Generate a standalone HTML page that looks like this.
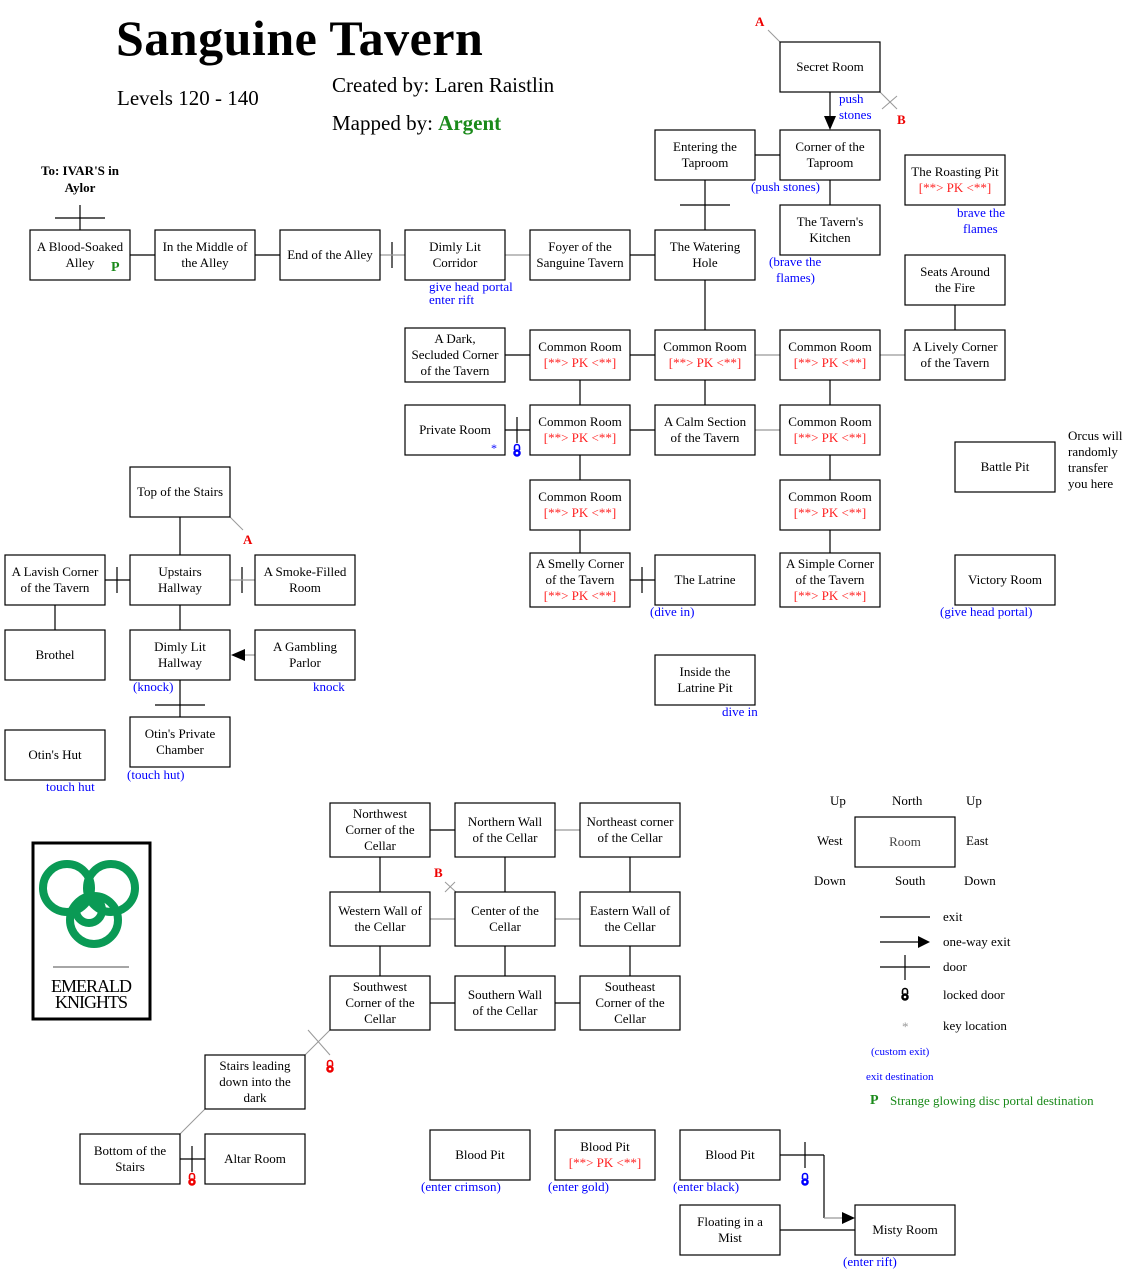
<!DOCTYPE html>
<html><head><meta charset="utf-8"><style>
html,body{margin:0;padding:0;background:#fff}
svg{display:block}
text{font-family:"Liberation Serif",serif;font-size:13px}
.c{text-anchor:middle}
.r{fill:#fff;stroke:#000;stroke-width:1.2}
.l{stroke:#000;stroke-width:1.2}
.g{stroke:#999;stroke-width:1.2}
.pk{fill:#f22}
.bl{fill:#00f}
</style></head><body>
<svg width="1132" height="1275" viewBox="0 0 1132 1275" xmlns="http://www.w3.org/2000/svg">
<defs>
<g id="lk"><path d="M-2.5,-1 V-4 A2.5,2.5 0 0 1 2.5,-4 V-1" fill="none" stroke-width="1.6"/><circle cx="0" cy="2" r="3.8" stroke="none"/><circle cx="0" cy="2" r="1.3" fill="#fff" stroke="none"/></g>
</defs>

<!-- titles -->
<text x="116" y="55" style="font-size:50px;font-weight:bold;letter-spacing:0.5px">Sanguine Tavern</text>
<text x="117" y="105" style="font-size:21px">Levels 120 - 140</text>
<text x="332" y="92" style="font-size:21px">Created by: Laren Raistlin</text>
<text x="332" y="130" style="font-size:21px">Mapped by: <tspan fill="#1a8a1a" font-weight="bold">Argent</tspan></text>
<text x="80" y="175" class="c" style="font-weight:bold">To: IVAR'S in</text>
<text x="80" y="192" class="c" style="font-weight:bold">Aylor</text>

<!-- connectors -->
<g class="l">
<line x1="80" y1="205" x2="80" y2="230"/><line x1="55" y1="218" x2="105" y2="218"/>
<line x1="130" y1="255" x2="155" y2="255"/>
<line x1="255" y1="255" x2="280" y2="255"/>
<line x1="392" y1="242" x2="392" y2="268"/>
<line x1="630" y1="255" x2="655" y2="255"/>
<line x1="705" y1="180" x2="705" y2="230"/><line x1="680" y1="205" x2="730" y2="205"/>
<line x1="755" y1="155" x2="780" y2="155"/>
<line x1="830" y1="180" x2="830" y2="205"/>
<line x1="830" y1="92" x2="830" y2="116"/>
<line x1="705" y1="280" x2="705" y2="330"/>
<line x1="505" y1="355" x2="530" y2="355"/>
<line x1="630" y1="355" x2="655" y2="355"/>
<line x1="955" y1="305" x2="955" y2="330"/>
<line x1="580" y1="380" x2="580" y2="405"/>
<line x1="705" y1="380" x2="705" y2="405"/>
<line x1="830" y1="380" x2="830" y2="405"/>
<line x1="505" y1="430" x2="530" y2="430"/><line x1="517" y1="417" x2="517" y2="443"/>
<line x1="630" y1="430" x2="655" y2="430"/>
<line x1="580" y1="455" x2="580" y2="480"/>
<line x1="830" y1="455" x2="830" y2="480"/>
<line x1="580" y1="530" x2="580" y2="553"/>
<line x1="830" y1="530" x2="830" y2="553"/>
<line x1="630" y1="580" x2="655" y2="580"/><line x1="642" y1="567" x2="642" y2="593"/>
<line x1="180" y1="517" x2="180" y2="555"/>
<line x1="105" y1="580" x2="130" y2="580"/><line x1="117" y1="567" x2="117" y2="593"/>
<line x1="242" y1="567" x2="242" y2="593"/>
<line x1="55" y1="605" x2="55" y2="630"/>
<line x1="180" y1="605" x2="180" y2="630"/>
<line x1="180" y1="680" x2="180" y2="717"/><line x1="155" y1="705" x2="205" y2="705"/>
<line x1="430" y1="830" x2="455" y2="830"/>
<line x1="380" y1="857" x2="380" y2="892"/>
<line x1="505" y1="857" x2="505" y2="892"/>
<line x1="630" y1="857" x2="630" y2="892"/>
<line x1="380" y1="946" x2="380" y2="976"/>
<line x1="505" y1="946" x2="505" y2="976"/>
<line x1="630" y1="946" x2="630" y2="976"/>
<line x1="430" y1="1003" x2="455" y2="1003"/>
<line x1="555" y1="1003" x2="580" y2="1003"/>
<line x1="180" y1="1159" x2="205" y2="1159"/><line x1="192" y1="1146" x2="192" y2="1172"/>
<line x1="780" y1="1155" x2="824" y2="1155"/><line x1="824" y1="1155" x2="824" y2="1218"/><line x1="805" y1="1142" x2="805" y2="1168"/>
<line x1="780" y1="1230" x2="855" y2="1230"/>
<line x1="880" y1="917" x2="930" y2="917"/>
<line x1="880" y1="942" x2="918" y2="942"/>
<line x1="880" y1="967" x2="930" y2="967"/><line x1="905" y1="955" x2="905" y2="980"/>
</g>
<g class="g">
<line x1="380" y1="255" x2="405" y2="255"/>
<line x1="505" y1="255" x2="530" y2="255"/>
<line x1="755" y1="355" x2="780" y2="355"/>
<line x1="880" y1="355" x2="905" y2="355"/>
<line x1="755" y1="430" x2="780" y2="430"/>
<line x1="230" y1="580" x2="255" y2="580"/>
<line x1="245" y1="655" x2="255" y2="655"/>
<line x1="555" y1="830" x2="580" y2="830"/>
<line x1="430" y1="919" x2="455" y2="919"/>
<line x1="555" y1="919" x2="580" y2="919"/>
<line x1="824" y1="1218" x2="842" y2="1218"/>
<line x1="768" y1="30" x2="780" y2="42" stroke-width="1"/>
<line x1="880" y1="92" x2="897" y2="109" stroke-width="1"/><line x1="882" y1="109" x2="897" y2="96" stroke-width="1"/>
<line x1="230" y1="517" x2="243" y2="530" stroke-width="1"/>
<line x1="445" y1="892" x2="455" y2="882" stroke-width="1"/><line x1="445" y1="882" x2="456" y2="892" stroke-width="1"/>
<line x1="330" y1="1030" x2="305" y2="1055" stroke-width="1"/><line x1="308" y1="1030" x2="330" y2="1055" stroke-width="1"/>
<line x1="205" y1="1109" x2="180" y2="1134" stroke-width="1"/>
</g>
<!-- arrows -->
<polygon points="824,116 836,116 830,130" fill="#000"/>
<polygon points="231,655 245,649 245,661" fill="#000"/>
<polygon points="842,1212 855,1218 842,1224" fill="#000"/>
<polygon points="918,936 930,942 918,948" fill="#000"/>

<!-- boxes -->
<g class="r">
<rect x="780" y="42" width="100" height="50"/>
<rect x="655" y="130" width="100" height="50"/>
<rect x="780" y="130" width="100" height="50"/>
<rect x="780" y="205" width="100" height="50"/>
<rect x="905" y="155" width="100" height="50"/>
<rect x="905" y="255" width="100" height="50"/>
<rect x="30" y="230" width="100" height="50"/>
<rect x="155" y="230" width="100" height="50"/>
<rect x="280" y="230" width="100" height="50"/>
<rect x="405" y="230" width="100" height="50"/>
<rect x="530" y="230" width="100" height="50"/>
<rect x="655" y="230" width="100" height="50"/>
<rect x="405" y="328" width="100" height="54"/>
<rect x="530" y="330" width="100" height="50"/>
<rect x="655" y="330" width="100" height="50"/>
<rect x="780" y="330" width="100" height="50"/>
<rect x="905" y="330" width="100" height="50"/>
<rect x="405" y="405" width="100" height="50"/>
<rect x="530" y="405" width="100" height="50"/>
<rect x="655" y="405" width="100" height="50"/>
<rect x="780" y="405" width="100" height="50"/>
<rect x="955" y="442" width="100" height="50"/>
<rect x="530" y="480" width="100" height="50"/>
<rect x="780" y="480" width="100" height="50"/>
<rect x="530" y="553" width="100" height="54"/>
<rect x="655" y="555" width="100" height="50"/>
<rect x="780" y="553" width="100" height="54"/>
<rect x="955" y="555" width="100" height="50"/>
<rect x="655" y="655" width="100" height="50"/>
<rect x="130" y="467" width="100" height="50"/>
<rect x="5" y="555" width="100" height="50"/>
<rect x="130" y="555" width="100" height="50"/>
<rect x="255" y="555" width="100" height="50"/>
<rect x="5" y="630" width="100" height="50"/>
<rect x="130" y="630" width="100" height="50"/>
<rect x="255" y="630" width="100" height="50"/>
<rect x="5" y="730" width="100" height="50"/>
<rect x="130" y="717" width="100" height="50"/>
<rect x="330" y="803" width="100" height="54"/>
<rect x="455" y="803" width="100" height="54"/>
<rect x="580" y="803" width="100" height="54"/>
<rect x="330" y="892" width="100" height="54"/>
<rect x="455" y="892" width="100" height="54"/>
<rect x="580" y="892" width="100" height="54"/>
<rect x="330" y="976" width="100" height="54"/>
<rect x="455" y="976" width="100" height="54"/>
<rect x="580" y="976" width="100" height="54"/>
<rect x="205" y="1055" width="100" height="54"/>
<rect x="80" y="1134" width="100" height="50"/>
<rect x="205" y="1134" width="100" height="50"/>
<rect x="430" y="1130" width="100" height="50"/>
<rect x="555" y="1130" width="100" height="50"/>
<rect x="680" y="1130" width="100" height="50"/>
<rect x="680" y="1205" width="100" height="50"/>
<rect x="855" y="1205" width="100" height="50"/>
<rect x="855" y="817" width="100" height="50"/>
</g>

<!-- box labels -->
<g class="c">
<text x="830" y="71">Secret Room</text>
<text x="705" y="151">Entering the</text><text x="705" y="167">Taproom</text>
<text x="830" y="151">Corner of the</text><text x="830" y="167">Taproom</text>
<text x="830" y="226">The Tavern's</text><text x="830" y="242">Kitchen</text>
<text x="955" y="176">The Roasting Pit</text><text x="955" y="192" class="pk">[**&gt; PK &lt;**]</text>
<text x="955" y="276">Seats Around</text><text x="955" y="292">the Fire</text>
<text x="80" y="251">A Blood-Soaked</text><text x="80" y="267">Alley</text>
<text x="205" y="251">In the Middle of</text><text x="205" y="267">the Alley</text>
<text x="330" y="259">End of the Alley</text>
<text x="455" y="251">Dimly Lit</text><text x="455" y="267">Corridor</text>
<text x="580" y="251">Foyer of the</text><text x="580" y="267">Sanguine Tavern</text>
<text x="705" y="251">The Watering</text><text x="705" y="267">Hole</text>
<text x="455" y="343">A Dark,</text><text x="455" y="359">Secluded Corner</text><text x="455" y="375">of the Tavern</text>
<text x="580" y="351">Common Room</text><text x="580" y="367" class="pk">[**&gt; PK &lt;**]</text>
<text x="705" y="351">Common Room</text><text x="705" y="367" class="pk">[**&gt; PK &lt;**]</text>
<text x="830" y="351">Common Room</text><text x="830" y="367" class="pk">[**&gt; PK &lt;**]</text>
<text x="955" y="351">A Lively Corner</text><text x="955" y="367">of the Tavern</text>
<text x="455" y="434">Private Room</text>
<text x="580" y="426">Common Room</text><text x="580" y="442" class="pk">[**&gt; PK &lt;**]</text>
<text x="705" y="426">A Calm Section</text><text x="705" y="442">of the Tavern</text>
<text x="830" y="426">Common Room</text><text x="830" y="442" class="pk">[**&gt; PK &lt;**]</text>
<text x="1005" y="471">Battle Pit</text>
<text x="580" y="501">Common Room</text><text x="580" y="517" class="pk">[**&gt; PK &lt;**]</text>
<text x="830" y="501">Common Room</text><text x="830" y="517" class="pk">[**&gt; PK &lt;**]</text>
<text x="580" y="568">A Smelly Corner</text><text x="580" y="584">of the Tavern</text><text x="580" y="600" class="pk">[**&gt; PK &lt;**]</text>
<text x="705" y="584">The Latrine</text>
<text x="830" y="568">A Simple Corner</text><text x="830" y="584">of the Tavern</text><text x="830" y="600" class="pk">[**&gt; PK &lt;**]</text>
<text x="1005" y="584">Victory Room</text>
<text x="705" y="676">Inside the</text><text x="705" y="692">Latrine Pit</text>
<text x="180" y="496">Top of the Stairs</text>
<text x="55" y="576">A Lavish Corner</text><text x="55" y="592">of the Tavern</text>
<text x="180" y="576">Upstairs</text><text x="180" y="592">Hallway</text>
<text x="305" y="576">A Smoke-Filled</text><text x="305" y="592">Room</text>
<text x="55" y="659">Brothel</text>
<text x="180" y="651">Dimly Lit</text><text x="180" y="667">Hallway</text>
<text x="305" y="651">A Gambling</text><text x="305" y="667">Parlor</text>
<text x="55" y="759">Otin's Hut</text>
<text x="180" y="738">Otin's Private</text><text x="180" y="754">Chamber</text>
<text x="380" y="818">Northwest</text><text x="380" y="834">Corner of the</text><text x="380" y="850">Cellar</text>
<text x="505" y="826">Northern Wall</text><text x="505" y="842">of the Cellar</text>
<text x="630" y="826">Northeast corner</text><text x="630" y="842">of the Cellar</text>
<text x="380" y="915">Western Wall of</text><text x="380" y="931">the Cellar</text>
<text x="505" y="915">Center of the</text><text x="505" y="931">Cellar</text>
<text x="630" y="915">Eastern Wall of</text><text x="630" y="931">the Cellar</text>
<text x="380" y="991">Southwest</text><text x="380" y="1007">Corner of the</text><text x="380" y="1023">Cellar</text>
<text x="505" y="999">Southern Wall</text><text x="505" y="1015">of the Cellar</text>
<text x="630" y="991">Southeast</text><text x="630" y="1007">Corner of the</text><text x="630" y="1023">Cellar</text>
<text x="255" y="1070">Stairs leading</text><text x="255" y="1086">down into the</text><text x="255" y="1102">dark</text>
<text x="130" y="1155">Bottom of the</text><text x="130" y="1171">Stairs</text>
<text x="255" y="1163">Altar Room</text>
<text x="480" y="1159">Blood Pit</text>
<text x="605" y="1151">Blood Pit</text><text x="605" y="1167" class="pk">[**&gt; PK &lt;**]</text>
<text x="730" y="1159">Blood Pit</text>
<text x="730" y="1226">Floating in a</text><text x="730" y="1242">Mist</text>
<text x="905" y="1234">Misty Room</text>
<text x="905" y="846" fill="#444">Room</text>
</g>

<!-- blue labels -->
<g class="bl">
<text x="839" y="103">push</text><text x="839" y="119">stones</text>
<text x="751" y="191">(push stones)</text>
<text x="769" y="266">(brave the</text><text x="776" y="282">flames)</text>
<text x="957" y="217">brave the</text><text x="963" y="233">flames</text>
<text x="429" y="291">give head portal</text><text x="429" y="304">enter rift</text>
<text x="491" y="452" style="font-size:12px">*</text>
<text x="650" y="616">(dive in)</text>
<text x="722" y="716">dive in</text>
<text x="940" y="616">(give head portal)</text>
<text x="133" y="691">(knock)</text>
<text x="313" y="691">knock</text>
<text x="127" y="779">(touch hut)</text>
<text x="46" y="791">touch hut</text>
<text x="421" y="1191">(enter crimson)</text>
<text x="548" y="1191">(enter gold)</text>
<text x="673" y="1191">(enter black)</text>
<text x="843" y="1266">(enter rift)</text>
<text x="871" y="1055" style="font-size:11px">(custom exit)</text>
<text x="866" y="1080" style="font-size:11px">exit destination</text>
</g>
<text x="111" y="271" fill="#1a8a1a" style="font-weight:bold;font-size:14px">P</text>
<text x="1068" y="440">Orcus will</text><text x="1068" y="456">randomly</text><text x="1068" y="472">transfer</text><text x="1068" y="488">you here</text>

<!-- red letters -->
<g fill="#e00" style="font-weight:bold">
<text x="755" y="26">A</text>
<text x="897" y="124">B</text>
<text x="243" y="544">A</text>
<text x="434" y="877">B</text>
</g>

<!-- locks -->
<use href="#lk" x="517" y="451" stroke="#00f" fill="#00f"/>
<use href="#lk" x="330" y="1067" stroke="#e00" fill="#e00"/>
<use href="#lk" x="192" y="1180" stroke="#e00" fill="#e00"/>
<use href="#lk" x="805" y="1180" stroke="#00f" fill="#00f"/>
<use href="#lk" x="905" y="995" stroke="#000" fill="#000"/>

<!-- legend -->
<g style="font-size:11px">
<text x="830" y="805">Up</text><text x="892" y="805">North</text><text x="966" y="805">Up</text>
<text x="817" y="845">West</text><text x="966" y="845">East</text>
<text x="814" y="885">Down</text><text x="895" y="885">South</text><text x="964" y="885">Down</text>
<text x="943" y="921">exit</text>
<text x="943" y="946">one-way exit</text>
<text x="943" y="971">door</text>
<text x="943" y="999">locked door</text>
<text x="943" y="1030">key location</text>
<text x="902" y="1031" fill="#999">*</text>
<text x="870" y="1104" fill="#1a8a1a" style="font-weight:bold;font-size:14px">P</text>
<text x="890" y="1105" fill="#1a8a1a">Strange glowing disc portal destination</text>
</g>

<!-- logo -->
<rect x="33" y="843" width="117" height="176" fill="#fff" stroke="#000" stroke-width="3"/>
<g fill="none" stroke="#0a9a55" stroke-width="8">
<circle cx="67" cy="888" r="24"/>
<circle cx="111" cy="888" r="24"/>
<circle cx="94" cy="920" r="24"/>
<circle cx="89" cy="910" r="13"/>
</g>
<line x1="53" y1="967" x2="129" y2="967" stroke="#888" stroke-width="1.5"/>
<text x="91" y="992" class="c" style="font-size:18px;letter-spacing:-1px">EMERALD</text>
<text x="91" y="1008" class="c" style="font-size:18px;letter-spacing:-1px">KNIGHTS</text>
</svg>
</body></html>
